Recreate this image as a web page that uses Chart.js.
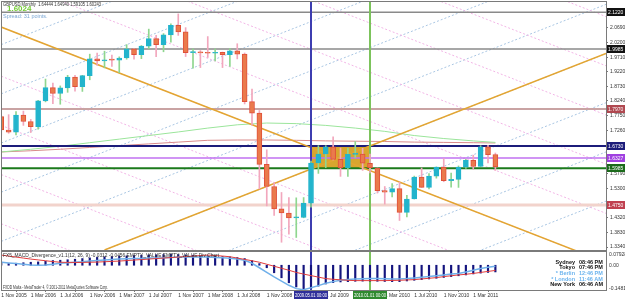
<!DOCTYPE html>
<html>
<head>
<meta charset="UTF-8">
<title>GBPUSD Monthly</title>
<script src="https://cdn.jsdelivr.net/npm/chart.js"></script>
<style>
  html, body { margin: 0; padding: 0; background: #fff; }
  #wrap { position: relative; width: 625px; height: 300px; overflow: hidden; }
  canvas { position: absolute; left: 0; }
  #main { top: 0; }
  #macd { top: 251px; }
</style>
</head>
<body>
<div id="wrap">
  <canvas id="main" width="625" height="251"></canvas>
  <canvas id="macd" width="625" height="49"></canvas>
</div>
<script>
// monthly bars, Nov 2005 .. Jun 2011 (index 0 .. 67)
const open = [1.7720,1.7265,1.7195,1.7770,1.7550,1.7375,1.8245,1.8690,1.8490,1.8680,1.9040,1.8720,1.9090,1.9655,1.9580,1.9620,1.9610,1.9680,1.9990,1.9790,2.0080,2.0330,2.0130,2.0455,2.0780,2.0560,1.9860,1.9890,1.9850,1.9840,1.9870,1.9790,1.9920,1.9810,1.8220,1.7830,1.6110,1.5370,1.4620,1.4480,1.4320,1.4330,1.4810,1.6160,1.6460,1.6700,1.6280,1.5990,1.6450,1.6460,1.6150,1.5990,1.5230,1.5180,1.5300,1.4500,1.4950,1.5690,1.5340,1.5720,1.6020,1.5570,1.5610,1.6020,1.6250,1.6040,1.6700,1.6444];
const high = [1.7760,1.7780,1.7880,1.7900,1.7620,1.8260,1.8975,1.8840,1.8745,1.9100,1.9100,1.9100,1.9810,1.9850,1.9910,1.9780,1.9720,2.0130,2.0000,2.0100,2.0650,2.0440,2.0500,2.0830,2.1160,2.0700,1.9990,1.9930,2.0400,1.9990,1.9880,2.0000,2.0160,1.9850,1.8640,1.7920,1.6600,1.5500,1.5170,1.5000,1.4990,1.5000,1.6220,1.6740,1.6740,1.7040,1.6660,1.6660,1.6880,1.6650,1.6460,1.5990,1.5370,1.5470,1.5520,1.5070,1.5720,1.5990,1.5800,1.6030,1.6300,1.5820,1.6060,1.6280,1.6420,1.6740,1.6750,1.6494];
const low = [1.7080,1.7155,1.7100,1.7420,1.7180,1.7290,1.8210,1.8150,1.8130,1.8530,1.8570,1.8560,1.8950,1.9430,1.9350,1.9400,1.9190,1.9640,1.9640,1.9660,1.9990,1.9730,1.9890,2.0210,2.0440,1.9730,1.9340,1.9360,1.9700,1.9580,1.9360,1.9400,1.9650,1.8140,1.7430,1.5290,1.4720,1.4400,1.3500,1.3770,1.3660,1.4320,1.4680,1.5810,1.6000,1.6260,1.5710,1.5710,1.6330,1.5910,1.5830,1.5150,1.4780,1.5020,1.4230,1.4350,1.4950,1.5340,1.5290,1.5650,1.5530,1.5350,1.5340,1.5980,1.5950,1.6040,1.6160,1.5911];
const close = [1.7265,1.7195,1.7770,1.7550,1.7375,1.8245,1.8690,1.8490,1.8680,1.9040,1.8720,1.9090,1.9655,1.9580,1.9620,1.9610,1.9680,1.9990,1.9790,2.0080,2.0330,2.0130,2.0455,2.0780,2.0560,1.9860,1.9890,1.9850,1.9840,1.9870,1.9790,1.9920,1.9810,1.8220,1.7830,1.6110,1.5370,1.4620,1.4480,1.4320,1.4330,1.4810,1.6160,1.6460,1.6700,1.6280,1.5990,1.6450,1.6460,1.6150,1.5990,1.5230,1.5180,1.5300,1.4500,1.4950,1.5690,1.5340,1.5720,1.6020,1.5570,1.5610,1.6020,1.6250,1.6040,1.6700,1.6440,1.6024];

// moving averages, read every 4 bars
const maIdx   = [0,4,8,12,16,20,24,28,32,36,40,44,48,52,56,60,64,67];
const maGreen = [1.6529,1.6620,1.6720,1.6840,1.6960,1.7080,1.7200,1.7330,1.7440,1.7500,1.7480,1.7420,1.7330,1.7220,1.7080,1.6980,1.6900,1.6850];
const maRed   = [1.6529,1.6570,1.6620,1.6680,1.6740,1.6800,1.6860,1.6920,1.6930,1.6930,1.6920,1.6900,1.6890,1.6880,1.6860,1.6850,1.6840,1.6830];

// MACD sub window
const macdHist   = [0.012,0.010,0.012,0.015,0.018,0.020,0.024,0.028,0.030,0.033,0.036,0.040,0.044,0.047,0.050,0.052,0.054,0.056,0.058,0.060,0.062,0.063,0.064,0.065,0.064,0.062,0.060,0.058,0.056,0.054,0.052,0.050,0.046,0.040,0.028,0.010,-0.015,-0.045,-0.075,-0.105,-0.130,-0.145,-0.140,-0.125,-0.112,-0.104,-0.100,-0.098,-0.096,-0.095,-0.095,-0.096,-0.097,-0.098,-0.098,-0.094,-0.090,-0.086,-0.082,-0.078,-0.073,-0.068,-0.063,-0.058,-0.052,-0.047,-0.043,-0.040];
const macdMain   = [0.018,0.014,0.010,0.006,0.002,0.000,0.002,0.006,0.012,0.015,0.018,0.021,0.025,0.028,0.031,0.034,0.037,0.039,0.040,0.041,0.043,0.044,0.045,0.047,0.049,0.050,0.050,0.049,0.049,0.047,0.045,0.042,0.037,0.030,0.012,-0.015,-0.043,-0.070,-0.095,-0.120,-0.140,-0.146,-0.135,-0.122,-0.108,-0.098,-0.090,-0.086,-0.083,-0.081,-0.080,-0.080,-0.081,-0.082,-0.083,-0.080,-0.076,-0.072,-0.068,-0.063,-0.058,-0.053,-0.049,-0.040,-0.030,-0.020,-0.012,-0.006];
const macdSignal = [0.061,0.055,0.049,0.043,0.037,0.032,0.027,0.022,0.018,0.017,0.017,0.017,0.018,0.019,0.021,0.023,0.025,0.028,0.031,0.034,0.037,0.040,0.043,0.046,0.049,0.052,0.055,0.058,0.061,0.058,0.055,0.051,0.043,0.035,0.027,0.018,0.006,-0.006,-0.018,-0.030,-0.043,-0.053,-0.062,-0.071,-0.080,-0.084,-0.087,-0.090,-0.092,-0.092,-0.092,-0.092,-0.092,-0.091,-0.090,-0.088,-0.086,-0.082,-0.078,-0.074,-0.068,-0.063,-0.058,-0.054,-0.049,-0.043,-0.037,-0.031];

// axis ticks
const priceTicks = [1.334,1.383,1.432,1.481,1.530,1.579,1.628,1.677,1.726,1.775,1.824,1.873,1.922,1.971,2.020,2.069,2.118];
const timeTickIdx = [0,4,8,12,16,20,24,28,32,36,40,44,48,52,56,60,64];
const timeTickLabels = ['1 Nov 2005','1 Mar 2006','1 Jul 2006','1 Nov 2006','1 Mar 2007','1 Jul 2007','1 Nov 2007','1 Mar 2008','1 Jul 2008','1 Nov 2008','1 Mar 2009','1 Jul 2009','1 Nov 2009','1 Mar 2010','1 Jul 2010','1 Nov 2010','1 Mar 2011'];
const macdTicks = [0.079282, 0, -0.148127];
const macdTickLabels = ['0.079282', '0.00', '-0.148127'];

// objects drawn on the chart
const hLines = [2.1220, 1.9985, 1.7970, 1.6730, 1.6327, 1.5985, 1.4750];
const hLineNames = ['hi','mid','res','top','pivot','bid','sup'];
const vLineIdx = [42, 50];
const vLineLabels = ['2009.05.01 00:00', '2010.01.01 00:00'];
const rectIdx = [42, 50];
const rectPrice = [1.6730, 1.5985];
const trendA = [[0, 2.0718], [80, 1.3015]];
const trendB = [[14, 1.3240], [82, 1.9836]];
const pinkGrid = [[0,1.412,82,0.622],[0,1.577,82,0.787],[0,1.742,82,0.952],[0,1.907,82,1.117],[0,2.072,82,1.282],[0,2.237,82,1.447],[0,2.402,82,1.612],[0,2.567,82,1.777],[0,2.732,82,1.942],[0,2.897,82,2.107]];
const blueGrid = [[0,0.528,82,1.323],[0,0.693,82,1.488],[0,0.858,82,1.653],[0,1.023,82,1.818],[0,1.188,82,1.983],[0,1.353,82,2.148],[0,1.518,82,2.313],[0,1.683,82,2.478],[0,1.848,82,2.643],[0,2.013,82,2.808]];

const X_MIN = 0.1, X_MAX = 82.0;
const Y_MIN = 1.3240, Y_MAX = 2.1560;
const M_MIN = -0.148127, M_MAX = 0.079282;

const FONT = 'Liberation Sans';
const NARROW = "'Liberation Sans Narrow', 'Liberation Sans'";
const styles = {
  hi:    { color: '#8a8a8a', width: 1.5, box: '#111' },
  mid:   { color: '#8a8a8a', width: 1.5, box: '#111' },
  res:   { color: '#c9a3a3', width: 2,   box: '#b04850' },
  top:   { color: '#1c1c7a', width: 2,   box: '#1c1c7a' },
  pivot: { color: '#c070f0', width: 1.5, box: '#a040e0' },
  bid:   { color: '#1b7a1b', width: 2,   box: '#1b6a1b' },
  sup:   { color: '#f2d3cc', width: 3,   box: '#c04050' }
};

const idx = open.map((_, i) => i);
const bull = idx.map(i => close[i] >= open[i]);

function seg(p) { return [{ x: p[0], y: p[1] }, { x: p[2], y: p[3] }]; }
function lineDs(data, color, width, order, extra) {
  return Object.assign({ type: 'line', data, borderColor: color, borderWidth: width,
    pointRadius: 0, fill: false, tension: 0, order }, extra || {});
}
// no extra room for edge tick labels: keep the plot where MT4 has it
function fixAxis(w) {
  return s => { s.width = w; s.paddingTop = 0; s.paddingBottom = 0; };
}

const mainSets = [];
pinkGrid.forEach(g => mainSets.push(lineDs(seg(g), '#f2b5e6', 1, 20, { borderDash: [2, 2] })));
blueGrid.forEach(g => mainSets.push(lineDs(seg(g), '#a9c6e3', 1, 20, { borderDash: [2, 2] })));
mainSets.push(lineDs(maIdx.map((x, i) => ({ x, y: maGreen[i] })), '#9be59b', 1, 15));
mainSets.push(lineDs(maIdx.map((x, i) => ({ x, y: maRed[i] })), '#d98a8a', 1, 15));
mainSets.push(lineDs([{ x: rectIdx[0], y: rectPrice[0] }, { x: rectIdx[1], y: rectPrice[0] }], '#d8a62e', 0, 12,
  { fill: { value: rectPrice[1] }, backgroundColor: '#d8a62e' }));
hLines.forEach((v, i) => {
  const s = styles[hLineNames[i]];
  mainSets.push(lineDs([{ x: X_MIN, y: v }, { x: X_MAX, y: v }], s.color, s.width, 10));
});
mainSets.push(lineDs(trendA.map(p => ({ x: p[0], y: p[1] })), '#e3a531', 1.5, 9));
mainSets.push(lineDs(trendB.map(p => ({ x: p[0], y: p[1] })), '#e3a531', 1.5, 9));
mainSets.push(lineDs([{ x: vLineIdx[0], y: Y_MIN }, { x: vLineIdx[0], y: Y_MAX }], '#3d3db0', 2, 8));
mainSets.push(lineDs([{ x: vLineIdx[1], y: Y_MIN }, { x: vLineIdx[1], y: Y_MAX }], '#7cc35c', 2, 8));
mainSets.push({
  type: 'bar', order: 2, grouped: false, barThickness: 1,
  data: idx.map(i => ({ x: i, y: [low[i], high[i]] })),
  backgroundColor: idx.map(i => bull[i] ? '#8fd68f' : '#f2a7bd')
});
mainSets.push({
  type: 'bar', order: 1, grouped: false, barThickness: 5, minBarLength: 1,
  data: idx.map(i => ({ x: i, y: [open[i], close[i]] })),
  backgroundColor: idx.map(i => bull[i] ? '#22b4cc' : '#ea7a4c'),
  borderColor: idx.map(i => bull[i] ? '#22b4cc' : '#e0503a'),
  borderWidth: 1, borderSkipped: false
});

function frame(chart) {
  const a = chart.chartArea, c = chart.ctx;
  c.save();
  c.strokeStyle = '#7a7a7a';
  c.lineWidth = 1;
  c.strokeRect(a.left - 0.5, a.top - 0.5, a.right - a.left + 1, a.bottom - a.top + 1);
  c.restore();
}

const mainPlugin = {
  id: 'mainDeco',
  afterDraw(chart) {
    frame(chart);
    const c = chart.ctx, y = chart.scales.y, a = chart.chartArea;
    c.save();
    c.font = '5px ' + NARROW;
    c.textBaseline = 'middle';
    hLines.forEach((v, i) => {
      const s = styles[hLineNames[i]];
      const py = Math.round(y.getPixelForValue(v));
      c.fillStyle = s.box;
      c.fillRect(a.right + 1, py - 4, 625 - a.right, 8);
      c.fillStyle = '#fff';
      c.fillText(v.toFixed(4), a.right + 2, py + 0.5);
    });
    c.textBaseline = 'alphabetic';
    c.fillStyle = '#333';
    c.font = '5px ' + FONT;
    c.fillText('GBPUSD,Monthly  1.64444 1.64940 1.59105 1.60243', 3, 6, 98);
    c.fillStyle = '#74cc36';
    c.font = 'bold 8px ' + FONT;
    c.fillText('1.6024', 7, 11, 26);
    c.fillStyle = '#7ba7d4';
    c.font = '5.5px ' + FONT;
    c.fillText('Spread: 31 points.', 3, 18, 47);
    c.restore();
  }
};

new Chart(document.getElementById('main'), {
  data: { datasets: mainSets },
  plugins: [mainPlugin],
  options: {
    responsive: false, animation: false,
    layout: { padding: { left: 2, top: 2, right: 0, bottom: 1 } },
    plugins: { legend: { display: false }, tooltip: { enabled: false } },
    scales: {
      x: { type: 'linear', min: X_MIN, max: X_MAX, offset: false, display: false },
      y: {
        position: 'right', min: Y_MIN, max: Y_MAX,
        afterBuildTicks: s => { s.ticks = priceTicks.map(v => ({ value: v })); },
        afterFit: fixAxis(19),
        ticks: { font: { size: 5, family: NARROW }, color: '#333', padding: 2,
          callback: v => Number(v).toFixed(5) },
        grid: { display: true, drawOnChartArea: false, tickLength: 2, color: '#7a7a7a' },
        border: { display: false }
      }
    }
  }
});

// MACD window
const macdSets = [
  lineDs([{ x: vLineIdx[0], y: M_MIN }, { x: vLineIdx[0], y: M_MAX }], '#3d3db0', 2, 8),
  lineDs([{ x: vLineIdx[1], y: M_MIN }, { x: vLineIdx[1], y: M_MAX }], '#7cc35c', 2, 8),
  lineDs(idx.map(i => ({ x: i, y: macdMain[i] })), '#70b0ea', 1.5, 2),
  lineDs(idx.map(i => ({ x: i, y: macdSignal[i] })), '#e23c3c', 1, 1),
  { type: 'bar', order: 3, grouped: false, barThickness: 1.5,
    data: idx.map(i => ({ x: i, y: macdHist[i] })), backgroundColor: '#14147e' }
];

const macdPlugin = {
  id: 'macdDeco',
  afterDraw(chart) {
    frame(chart);
    const c = chart.ctx, x = chart.scales.x, y = chart.scales.y, a = chart.chartArea;
    c.save();
    // right axis labels, kept inside the window like MT4 does
    c.font = '5px ' + NARROW;
    c.fillStyle = '#333';
    c.textBaseline = 'middle';
    macdTicks.forEach((v, i) => {
      const py = Math.min(Math.max(y.getPixelForValue(v), a.top + 2.5), a.bottom - 1.5);
      c.fillText(macdTickLabels[i], a.right + 3, py);
    });
    c.textBaseline = 'alphabetic';
    c.font = '5px ' + FONT;
    c.fillText('FX5_MACD_Divergence_v1.1(12, 26, 9) -0.0312 -0.0456 EMPTY_VALUE EMPTY_VALUE Div Chart', 3, a.top + 4.5, 216);
    c.fillText('FXDD Malta - MetaTrader 4, \u00a9 2001-2011 MetaQuotes Software Corp.', 3, a.bottom - 1, 105);
    const clocks = [['Sydney', '08:46 PM', '#111'], ['Tokyo', '07:46 PM', '#111'], ['* Berlin', '12:46 PM', '#6cb4ee'],
      ['* London', '11:46 AM', '#6cb4ee'], ['New York', '06:46 AM', '#111']];
    c.font = 'bold 5.5px ' + FONT;
    clocks.forEach((r, i) => {
      const py = a.top + 11.5 + i * 5.7;
      c.fillStyle = r[2];
      c.textAlign = 'right';
      c.fillText(r[0], a.right - 31, py);
      c.textAlign = 'left';
      c.fillText(r[1], a.right - 27, py, 25);
    });
    const boxCols = ['#2e2e9a', '#2f8a2f'];
    c.font = '5px ' + NARROW;
    vLineIdx.forEach((v, i) => {
      const px = x.getPixelForValue(v);
      c.fillStyle = boxCols[i];
      c.fillRect(px - 17, a.bottom + 1, 34, 8);
      c.fillStyle = '#fff';
      c.textAlign = 'center';
      c.fillText(vLineLabels[i], px, a.bottom + 7, 32);
    });
    c.restore();
  }
};

new Chart(document.getElementById('macd'), {
  data: { datasets: macdSets },
  plugins: [macdPlugin],
  options: {
    responsive: false, animation: false,
    layout: { padding: { left: 2, top: 1, right: 0, bottom: 0 } },
    plugins: { legend: { display: false }, tooltip: { enabled: false } },
    scales: {
      x: {
        type: 'linear', min: X_MIN, max: X_MAX, offset: false,
        afterBuildTicks: s => { s.ticks = timeTickIdx.map(v => ({ value: v })); },
        afterFit: s => { s.height = 10; s.paddingLeft = 0; s.paddingRight = 0; },
        ticks: { font: { size: 5, family: NARROW }, color: '#333', padding: 1, align: 'start',
          maxRotation: 0, autoSkip: false,
          callback: v => timeTickLabels[timeTickIdx.indexOf(v)] },
        grid: { display: true, drawOnChartArea: false, tickLength: 2, color: '#7a7a7a' },
        border: { display: false }
      },
      y: {
        position: 'right', min: M_MIN, max: M_MAX,
        afterBuildTicks: s => { s.ticks = macdTicks.map(v => ({ value: v })); },
        afterFit: fixAxis(19),
        ticks: { display: false },
        grid: { display: false },
        border: { display: false }
      }
    }
  }
});
</script>
</body>
</html>
